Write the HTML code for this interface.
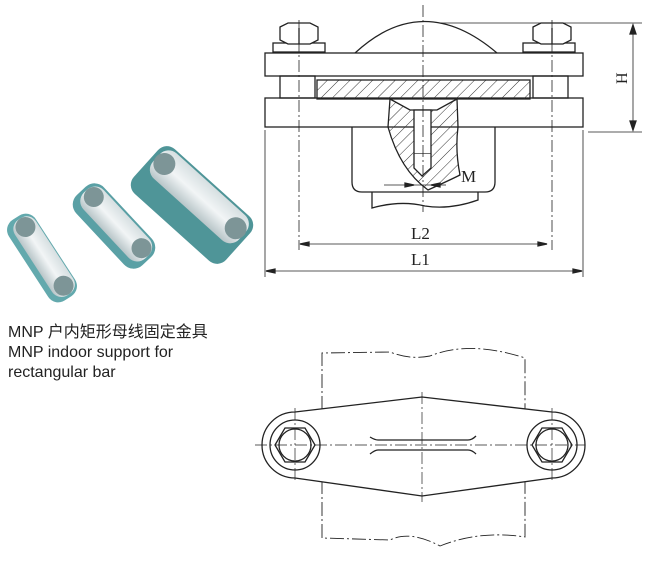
<!DOCTYPE html>
<html><head><meta charset="utf-8"><style>
html,body{margin:0;padding:0;background:#fff;}
body{width:650px;height:562px;overflow:hidden;position:relative;}
.t{position:absolute;left:8px;font-family:"Liberation Sans","Noto Sans CJK SC",sans-serif;font-size:16px;color:#222;line-height:20px;}
</style></head><body>
<svg width="650" height="562" viewBox="0 0 650 562" style="position:absolute;left:0;top:0" fill="none" stroke="#222" stroke-width="1.3">
<defs>
<pattern id="h" width="8" height="8" patternUnits="userSpaceOnUse" patternTransform="rotate(45)"><line x1="0" y1="0" x2="0" y2="8" stroke="#333" stroke-width="1"/></pattern>
<linearGradient id="g" x1="0" y1="0" x2="0" y2="1"><stop offset="0" stop-color="#d6dfe1"/><stop offset="0.5" stop-color="#f2f5f6"/><stop offset="1" stop-color="#b8c5c8"/></linearGradient>
</defs>
<g stroke="none">
 <g transform="translate(42,258) rotate(57)"><rect x="-48" y="-16" width="96" height="32" rx="12" fill="#63a9ad"/><rect x="-45" y="-15" width="90" height="25" rx="11" fill="url(#g)"/><circle cx="-35" cy="-3" r="10" fill="#7d9597"/><circle cx="35" cy="-3" r="10" fill="#7d9597"/></g>
 <g transform="translate(114,226) rotate(47)"><rect x="-48" y="-19" width="96" height="38" rx="13" fill="#5aa0a5"/><rect x="-45" y="-17" width="90" height="28" rx="12" fill="url(#g)"/><circle cx="-35" cy="-5" r="10" fill="#7d9597"/><circle cx="35" cy="-5" r="10" fill="#7d9597"/></g>
 <g transform="translate(192,205) rotate(42)"><rect x="-62" y="-30" width="124" height="60" rx="12" fill="#4f9598"/><rect x="-58" y="-28" width="116" height="34" rx="12" fill="url(#g)"/><circle cx="-48" cy="-12" r="11" fill="#7d9597"/><circle cx="48" cy="-12" r="11" fill="#7d9597"/></g>
</g>
<path d="M355 53 Q423 -10 497 53" />
<rect x="265" y="53" width="318" height="23" fill="#fff"/>
<rect x="265" y="98" width="318" height="29" fill="#fff"/>
<rect x="280" y="76" width="35" height="22"/><rect x="533" y="76" width="35" height="22"/>
<rect x="317" y="80" width="213" height="19" fill="url(#h)"/>
<rect x="273" y="43" width="52" height="9"/><rect x="523" y="43" width="52" height="9"/>
<path d="M280 27 L288 23 L310 23 L318 27 L318 40 L310 44 L288 44 L280 40Z" fill="#fff"/>
<path d="M533 27 L541 23 L563 23 L571 27 L571 40 L563 44 L541 44 L533 40Z" fill="#fff"/>
<line x1="299" y1="28" x2="299" y2="44"/><line x1="552" y1="28" x2="552" y2="44"/>
<path d="M352 127 L352 182 Q352 192 362 192 L485 192 Q495 192 495 182 L495 127"/>
<path d="M372 192 L372 208 Q400 200 425 206 Q450 210 478 200 L478 192"/>
<path d="M390 99 L410 110 L437 110 L457 99 L458 127 Q455 150 460 175 Q450 180 428 190 Q400 170 388 127Z" fill="url(#h)"/>
<rect x="414" y="110" width="17" height="44" fill="#fff"/>
<path d="M414 154 L414 168 L422 176 L431 168 L431 154" fill="#fff"/>
<g stroke-width="0.8" stroke-dasharray="12,3,2,3">
<line x1="423" y1="5" x2="423" y2="212"/><line x1="299" y1="20" x2="299" y2="250"/><line x1="552" y1="20" x2="552" y2="250"/>
</g>
<line x1="265" y1="130" x2="265" y2="277" stroke-width="0.8"/><line x1="583" y1="130" x2="583" y2="277" stroke-width="0.8"/>
<line x1="440" y1="23" x2="642" y2="23" stroke-width="0.8"/><line x1="588" y1="132" x2="642" y2="132" stroke-width="0.8"/>
<line x1="633" y1="25" x2="633" y2="130" stroke-width="0.8"/>
<path d="M633 25 l-3 9 h6Z M633 130 l-3 -9 h6Z" fill="#222"/>
<text x="620" y="77" font-family="Liberation Serif" font-size="16" fill="#222" stroke="none" transform="rotate(-90 627 77)">H</text>
<line x1="384" y1="185" x2="446" y2="185" stroke-width="0.8"/>
<path d="M414 185 l-9 -2 v4Z M431 185 l9 -2 v4Z" fill="#222"/>
<text x="461" y="182" font-family="Liberation Serif" font-size="17" fill="#222" stroke="none">M</text>
<line x1="300" y1="244" x2="547" y2="244" stroke-width="0.8"/>
<path d="M300 244 l9 -2 v4Z M547 244 l-9 -2 v4Z" fill="#222"/>
<text x="411" y="239" font-family="Liberation Serif" font-size="17" fill="#222" stroke="none">L2</text>
<line x1="266" y1="271" x2="582" y2="271" stroke-width="0.8"/>
<path d="M266 271 l9 -2 v4Z M582 271 l-9 -2 v4Z" fill="#222"/>
<text x="411" y="265" font-family="Liberation Serif" font-size="17" fill="#222" stroke="none">L1</text>
<g stroke-width="0.9" stroke-dasharray="14,3,2,3">
<path d="M322 410 L322 353 L390 352 Q410 360 430 356 Q470 340 525 358 L525 410"/>
<path d="M322 480 L322 538 L390 540 Q410 530 440 546 Q480 530 525 537 L525 480"/>
</g>
<path d="M295 412 L422 397 L552 412 A33 33 0 0 1 552 478 L422 496 L295 478 A33 33 0 0 1 295 412Z" fill="#fff"/>
<circle cx="295" cy="445" r="25"/><circle cx="552" cy="445" r="25"/>
<path d="M275 445 L285 428 L305 428 L315 445 L305 462 L285 462Z M532 445 L542 428 L562 428 L572 445 L562 462 L542 462Z"/>
<circle cx="295" cy="445" r="16"/><circle cx="552" cy="445" r="16"/>
<path d="M370 437 Q375 440 378 440 L468 440 Q472 440 476 436 M370 454 Q375 450 378 450 L468 450 Q472 450 476 454"/>
<g stroke-width="0.7" stroke-dasharray="12,3,2,3">
<line x1="255" y1="445" x2="585" y2="445"/><line x1="422" y1="392" x2="422" y2="502"/>
<line x1="295" y1="408" x2="295" y2="482"/><line x1="552" y1="408" x2="552" y2="482"/>
</g>
</svg>
<div class="t" style="top:323px">MNP 户内矩形母线固定金具</div>
<div class="t" style="top:343px">MNP indoor support for</div>
<div class="t" style="top:363px">rectangular bar</div>
</body></html>
